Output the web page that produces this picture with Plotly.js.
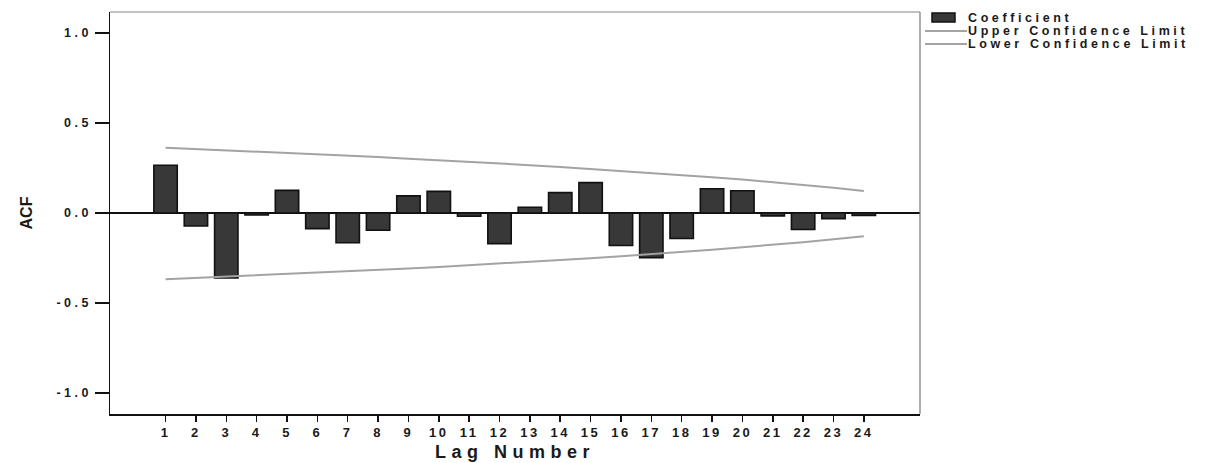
<!DOCTYPE html>
<html>
<head>
<meta charset="utf-8">
<script src="https://cdn.plot.ly/plotly-3.0.1.min.js"></script>
<style>
  html, body { margin: 0; padding: 0; background: #fff; }
  #acf { width: 1206px; height: 463px; }
  .xtick text { letter-spacing: 2.5px; }
  .ytick text { letter-spacing: 3.5px; }
  .xtitle { letter-spacing: 5.5px; }
  .annotation-text { letter-spacing: 3.6px; }
</style>
</head>
<body>
<div id="acf"></div>
<script>
// Autocorrelation coefficients by lag
const lags = [1, 2, 3, 4, 5, 6, 7, 8, 9, 10, 11, 12, 13, 14, 15, 16, 17, 18, 19, 20, 21, 22, 23, 24];
const coefficient = [0.265, -0.072, -0.361, -0.011, 0.126, -0.087, -0.165, -0.096, 0.095, 0.120, -0.018, -0.170,
                     0.032, 0.113, 0.169, -0.181, -0.248, -0.142, 0.135, 0.124, -0.016, -0.092, -0.031, -0.013];
// Confidence limits at each lag
const upperLimit = [0.363, 0.356, 0.349, 0.342, 0.335, 0.328, 0.320, 0.311, 0.302, 0.294, 0.285, 0.276,
                    0.266, 0.256, 0.245, 0.235, 0.224, 0.211, 0.199, 0.186, 0.172, 0.157, 0.140, 0.122];
const lowerLimit = [-0.368, -0.361, -0.354, -0.347, -0.340, -0.333, -0.325, -0.316, -0.308, -0.300, -0.291, -0.282,
                    -0.272, -0.262, -0.251, -0.240, -0.229, -0.216, -0.204, -0.190, -0.177, -0.162, -0.146, -0.129];
const yTicks = [-1.0, -0.5, 0.0, 0.5, 1.0];
const yTickText = ['-1.0', '-0.5', '0.0', '0.5', '1.0'];
const seriesNames = ['Coefficient', 'Upper Confidence Limit', 'Lower Confidence Limit'];

const W = 1206, H = 463;
const M = { l: 110, r: 286, t: 12, b: 49 };
const barFill = '#383838', barEdge = '#111', limitColor = '#a3a3a3';
const textFont = { family: 'Liberation Sans, Arial, sans-serif', color: '#1a1a1a' };

// pixel position -> paper fraction, for the key drawn beside the plot
const px = x => (x - M.l) / (W - M.l - M.r);
const py = y => (H - M.b - y) / (H - M.t - M.b);

const traces = [
  {
    type: 'bar', name: seriesNames[0], x: lags, y: coefficient, width: 0.77,
    marker: { color: barFill, line: { color: barEdge, width: 1.6 } }
  },
  {
    type: 'scatter', mode: 'lines', name: seriesNames[1], x: lags, y: upperLimit,
    line: { color: limitColor, width: 2 }
  },
  {
    type: 'scatter', mode: 'lines', name: seriesNames[2], x: lags, y: lowerLimit,
    line: { color: limitColor, width: 2 }
  }
];

// Key: swatch + two line samples, with labels
const keyRows = [18, 31, 44];
const keyShapes = [
  { type: 'rect', xref: 'paper', yref: 'paper', x0: px(932), x1: px(955), y0: py(22), y1: py(13),
    fillcolor: barFill, line: { color: barEdge, width: 1.5 } },
  { type: 'line', xref: 'paper', yref: 'paper', x0: px(925), x1: px(967), y0: py(keyRows[1]), y1: py(keyRows[1]),
    line: { color: limitColor, width: 2 } },
  { type: 'line', xref: 'paper', yref: 'paper', x0: px(925), x1: px(967), y0: py(keyRows[2]), y1: py(keyRows[2]),
    line: { color: limitColor, width: 2 } }
];
const keyLabels = seriesNames.map((name, i) => ({
  xref: 'paper', yref: 'paper', x: px(966), y: py(keyRows[i]), xanchor: 'left', yanchor: 'middle',
  text: name, showarrow: false, align: 'left',
  font: Object.assign({}, textFont, { size: 12.5, weight: 'bold' })
}));

const layout = {
  width: W, height: H,
  margin: M,
  paper_bgcolor: '#fff', plot_bgcolor: '#fff',
  showlegend: false,
  xaxis: {
    range: [-0.83, 25.85], tickmode: 'array', tickvals: lags, ticktext: lags.map(String),
    showgrid: false, zeroline: false,
    showline: true, linecolor: '#111', linewidth: 1.5,
    ticks: 'outside', ticklen: 6, tickwidth: 1.5, tickcolor: '#111',
    tickfont: Object.assign({}, textFont, { size: 13, weight: 'bold' }),
    title: { text: 'Lag Number', standoff: 6, font: Object.assign({}, textFont, { size: 18, weight: 'bold' }) }
  },
  yaxis: {
    range: [-1.117, 1.117], tickmode: 'array', tickvals: yTicks, ticktext: yTickText,
    showgrid: false,
    zeroline: true, zerolinecolor: '#111', zerolinewidth: 1.2,
    showline: true, linecolor: '#111', linewidth: 1.5,
    ticks: 'outside', ticklen: 14, tickwidth: 1.5, tickcolor: '#111',
    tickfont: Object.assign({}, textFont, { size: 12.5, weight: 'bold' }),
    title: { text: 'ACF', standoff: 20, font: Object.assign({}, textFont, { size: 16, weight: 'bold' }) }
  },
  shapes: [
    { type: 'line', xref: 'paper', yref: 'paper', x0: 0, x1: 1, y0: 1, y1: 1, line: { color: '#888', width: 1.2 } },
    { type: 'line', xref: 'paper', yref: 'paper', x0: 1, x1: 1, y0: 0, y1: 1, line: { color: '#777', width: 1.2 } }
  ].concat(keyShapes),
  annotations: keyLabels,
  bargap: 0
};

Plotly.newPlot('acf', traces, layout, { displayModeBar: false, staticPlot: true });
</script>
</body>
</html>
